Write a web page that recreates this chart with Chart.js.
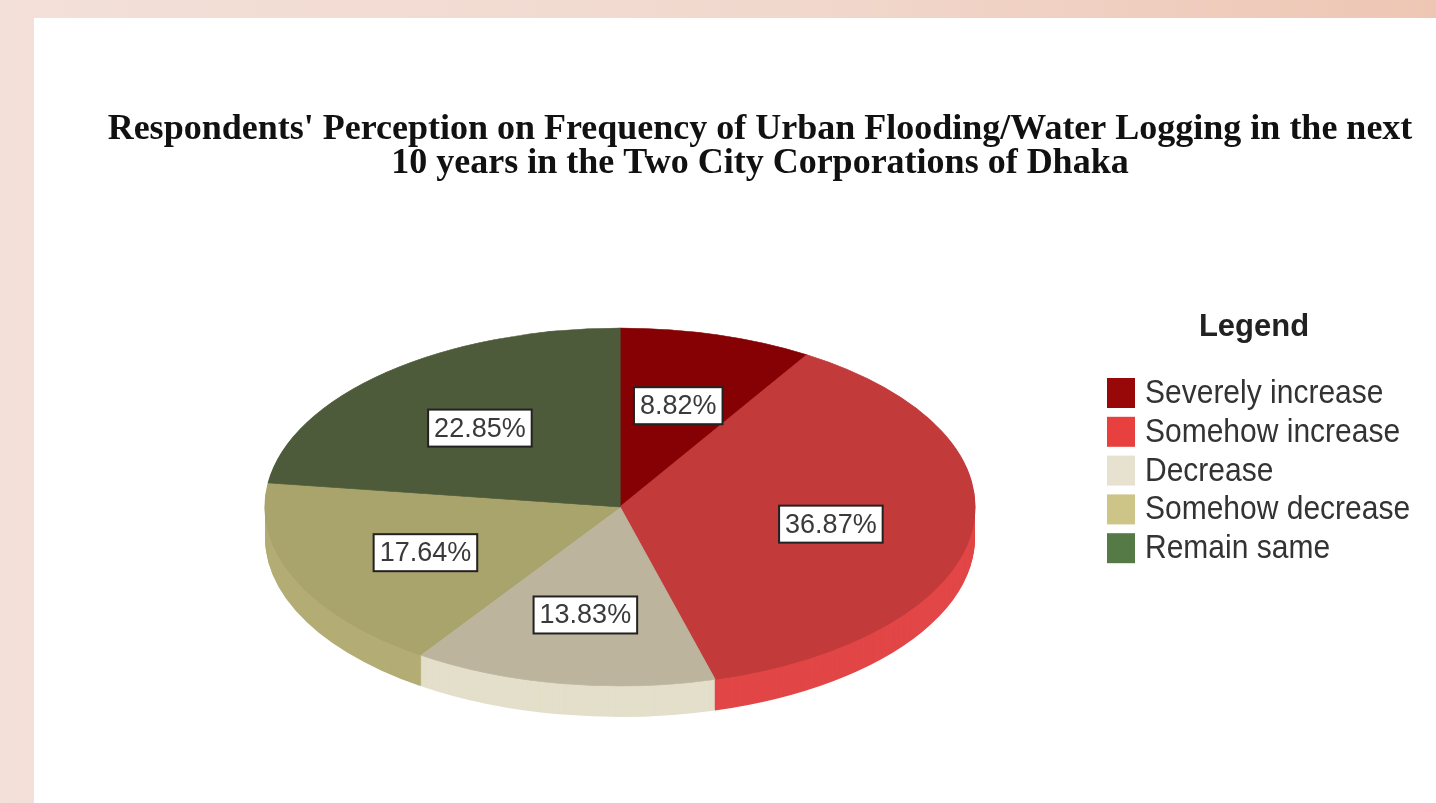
<!DOCTYPE html>
<html>
<head>
<meta charset="utf-8">
<script src="https://cdn.jsdelivr.net/npm/chart.js@4.4.1/dist/chart.umd.min.js"></script>
<style>
  html, body { margin: 0; padding: 0; width: 1436px; height: 803px; overflow: hidden;
    background: linear-gradient(to right, #f3e0d9 0%, #f1d8cd 55%, #eec6b4 100%); }
  #panel { position: absolute; left: 34px; top: 18px; right: 0; bottom: 0; background: #ffffff; }
  #wrap { position: absolute; left: 0; top: 0; width: 1436px; height: 803px; }
</style>
</head>
<body>
<div id="panel"></div>
<div id="wrap"><canvas id="chart"></canvas></div>
<script>
// ---- data ----
const titleLines = [
  "Respondents' Perception on Frequency of Urban Flooding/Water Logging in the next",
  "10 years in the Two City Corporations of Dhaka"
];
const categories = ['Severely increase', 'Somehow increase', 'Decrease', 'Somehow decrease', 'Remain same'];
const percentages = [8.82, 36.87, 13.83, 17.64, 22.85];
const legendTitle = 'Legend';

// ---- styles ----
const topColors    = ['#860103', '#c23a3a', '#bdb49e', '#a9a36c', '#4e5b3b'];
const sideColors   = ['#9a0a0a', '#e24646', '#e3dfca', '#b3ad75', '#5a6a44'];
const legendColors = ['#990808', '#e8403f', '#e6e2cf', '#cdc588', '#567a45'];

const pie3d = {
  id: 'pie3d',
  beforeDatasetsDraw(chart, args, o) {
    const meta = chart.getDatasetMeta(0);
    const a0 = meta.data[0];
    const cx0 = a0.x, cy0 = a0.y, r0 = a0.outerRadius;
    const ctx = chart.ctx;
    const sx = o.rx / r0, sy = o.ry / r0;
    for (let d = o.depth; d >= 1; d--) {
      ctx.save();
      ctx.translate(o.cx, o.cy + d);
      ctx.scale(sx, sy);
      ctx.translate(-cx0, -cy0);
      meta.data.forEach((arc, i) => {
        ctx.beginPath();
        ctx.moveTo(cx0, cy0);
        ctx.arc(cx0, cy0, r0, arc.startAngle, arc.endAngle);
        ctx.closePath();
        ctx.fillStyle = o.sideColors[i];
        ctx.fill();
      });
      ctx.restore();
    }
    ctx.save();
    ctx.translate(o.cx, o.cy);
    ctx.scale(sx, sy);
    ctx.translate(-cx0, -cy0);
  },
  afterDatasetsDraw(chart) {
    chart.ctx.restore();
  },
  afterDraw(chart, args, o) {
    const ctx = chart.ctx;
    const meta = chart.getDatasetMeta(0);
    const a0 = meta.data[0];
    const cx0 = a0.x, cy0 = a0.y, r0 = a0.outerRadius;
    const sx = o.rx / r0, sy = o.ry / r0;
    const vals = chart.data.datasets[0].data;
    // value labels
    ctx.save();
    ctx.font = '27px "Liberation Sans", Arial, sans-serif';
    ctx.textAlign = 'center';
    ctx.textBaseline = 'middle';
    meta.data.forEach((arc, i) => {
      const mid = (arc.startAngle + arc.endAngle) / 2;
      const px = cx0 + Math.cos(mid) * r0 * o.labelFactor;
      const py = cy0 + Math.sin(mid) * r0 * o.labelFactor;
      const x = o.cx + (px - cx0) * sx;
      const y = o.cy + (py - cy0) * sy + o.labelOffsetY;
      const txt = vals[i].toFixed(2) + '%';
      const w = ctx.measureText(txt).width + 12;
      const h = 37;
      ctx.fillStyle = '#ffffff';
      ctx.fillRect(x - w / 2, y - h / 2, w, h);
      ctx.lineWidth = 2;
      ctx.strokeStyle = '#222222';
      ctx.strokeRect(x - w / 2, y - h / 2, w, h);
      ctx.fillStyle = '#3a3a3a';
      ctx.fillText(txt, x, y + 1);
    });
    ctx.restore();

    // legend
    const L = o.legend;
    ctx.save();
    ctx.fillStyle = '#222222';
    ctx.font = 'bold 31px "Liberation Sans", Arial, sans-serif';
    ctx.textAlign = 'center';
    ctx.textBaseline = 'middle';
    ctx.fillText(L.title, L.titleX, L.titleY);
    ctx.font = '30px "Liberation Sans", Arial, sans-serif';
    ctx.textAlign = 'left';
    chart.data.labels.forEach((lab, i) => {
      const yc = L.rowY + i * L.rowGap;
      ctx.fillStyle = L.colors[i];
      ctx.fillRect(L.boxX, yc - L.boxH / 2, L.boxW, L.boxH);
      ctx.fillStyle = '#333333';
      ctx.save();
      ctx.translate(L.textX, yc + 1);
      ctx.scale(1, 1.08);
      ctx.fillText(lab, 0, 0);
      ctx.restore();
    });
    ctx.restore();
  }
};

new Chart(document.getElementById('chart'), {
  type: 'pie',
  data: {
    labels: categories,
    datasets: [{
      data: percentages,
      backgroundColor: topColors,
      borderColor: topColors,
      borderWidth: 1,
      clip: false
    }]
  },
  plugins: [pie3d],
  options: {
    responsive: true,
    maintainAspectRatio: false,
    animation: false,
    events: [],
    layout: { padding: { left: 84 } },
    plugins: {
      legend: { display: false },
      tooltip: { enabled: false },
      title: {
        display: true,
        text: titleLines,
        color: '#111111',
        font: { family: '"Liberation Serif", "Times New Roman", serif', size: 36, weight: 'bold', lineHeight: '34px' },
        padding: { top: 113, bottom: 10 }
      },
      pie3d: {
        cx: 620, cy: 507, rx: 355, ry: 179, depth: 31,
        sideColors: sideColors,
        labelFactor: 0.6,
        labelOffsetY: 2,
        legend: {
          title: legendTitle,
          titleX: 1254, titleY: 327,
          colors: legendColors,
          boxX: 1107, boxW: 28, boxH: 30,
          textX: 1145, rowY: 393, rowGap: 38.8
        }
      }
    }
  }
});
</script>
</body>
</html>
